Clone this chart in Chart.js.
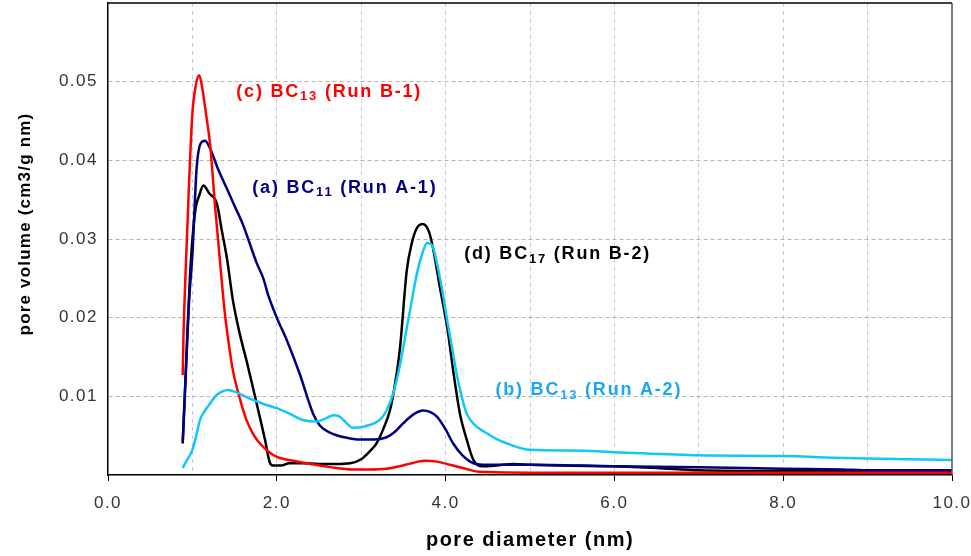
<!DOCTYPE html>
<html lang="en">
<head>
    <meta charset="UTF-8">
    <title>Pore size distribution</title>
    <script src="https://cdn.jsdelivr.net/npm/chart.js"></script>
    <style>
        html, body { margin: 0; padding: 0; background: #fff; }
        #wrap { width: 971px; height: 556px; }
    </style>
</head>
<body>
<div id="wrap"><canvas id="poreChart" width="971" height="556"></canvas></div>
<script>
    // pore diameter (nm) / pore volume (cm3/g nm)
    const redX = [0.885, 0.895, 0.92, 0.96, 1.0, 1.04, 1.08, 1.12, 1.16, 1.21, 1.27, 1.33, 1.38, 1.42, 1.48, 1.56, 1.64, 1.72, 1.8, 1.9, 2.0, 2.2, 2.4, 2.63, 2.9, 3.1, 3.3, 3.45, 3.6, 3.75, 3.9, 4.05, 4.2, 4.4, 5.0, 6.0, 7.0, 8.0, 9.0, 10.0];
    const redY = [0.0127, 0.018, 0.026, 0.037, 0.046, 0.0495, 0.0508, 0.049, 0.046, 0.042, 0.034, 0.0268, 0.021, 0.0175, 0.0133, 0.0098, 0.007, 0.0052, 0.004, 0.003, 0.0023, 0.0018, 0.0014, 0.001, 0.0007, 0.0007, 0.0008, 0.0011, 0.0015, 0.0018, 0.0017, 0.0013, 0.0009, 0.0004, 0.0003, 0.0003, 0.0003, 0.0003, 0.0003, 0.0003];

    const navyX = [0.885, 0.9, 0.93, 0.96, 1.0, 1.05, 1.1, 1.15, 1.21, 1.3, 1.4, 1.5, 1.6, 1.76, 1.84, 1.9, 2.0, 2.12, 2.27, 2.43, 2.51, 2.63, 2.8, 2.99, 3.15, 3.3, 3.4, 3.5, 3.62, 3.73, 3.82, 3.9, 4.0, 4.09, 4.2, 4.33, 4.5, 4.64, 5.0, 6.0, 7.0, 8.0, 8.7, 9.0, 10.0];
    const navyY = [0.0042, 0.0078, 0.015, 0.022, 0.028, 0.039, 0.0422, 0.0425, 0.0415, 0.039, 0.0366, 0.0342, 0.0318, 0.027, 0.025, 0.0228, 0.02, 0.0171, 0.0129, 0.0078, 0.0063, 0.0054, 0.0048, 0.0045, 0.0045, 0.0048, 0.0055, 0.0066, 0.0077, 0.0082, 0.008, 0.0074, 0.0058, 0.004, 0.0025, 0.0015, 0.0013, 0.0013, 0.0013, 0.0011, 0.001, 0.0008, 0.0007, 0.0006, 0.0006];

    const blackX = [0.885, 0.91, 0.94, 0.97, 1.0, 1.04, 1.08, 1.13, 1.2, 1.29, 1.35, 1.41, 1.48, 1.56, 1.64, 1.72, 1.8, 1.86, 1.92, 1.96, 2.05, 2.15, 2.3, 2.5, 2.7, 2.87, 3.0, 3.1, 3.18, 3.26, 3.34, 3.4, 3.46, 3.54, 3.6, 3.66, 3.73, 3.8, 3.85, 3.93, 4.02, 4.1, 4.17, 4.25, 4.33, 4.44, 4.6, 4.8, 5.0, 6.0, 6.5, 7.0, 8.0, 9.0, 10.0];
    const blackY = [0.004, 0.01, 0.018, 0.025, 0.03, 0.034, 0.0355, 0.0368, 0.0358, 0.0345, 0.031, 0.0275, 0.0222, 0.018, 0.0146, 0.011, 0.0073, 0.0045, 0.0015, 0.0012, 0.0012, 0.0015, 0.0015, 0.0014, 0.0014, 0.0015, 0.002, 0.003, 0.004, 0.0058, 0.0082, 0.0115, 0.0162, 0.026, 0.0295, 0.0314, 0.0319, 0.031, 0.0289, 0.024, 0.0187, 0.0125, 0.0078, 0.0045, 0.0019, 0.0011, 0.0012, 0.0014, 0.0013, 0.0011, 0.0009, 0.0006, 0.0005, 0.0005, 0.0004];

    const cyanX = [0.885, 0.93, 1.0, 1.05, 1.09, 1.15, 1.21, 1.27, 1.33, 1.42, 1.5, 1.68, 1.85, 2.0, 2.15, 2.31, 2.47, 2.58, 2.67, 2.73, 2.79, 2.9, 3.05, 3.22, 3.3, 3.38, 3.46, 3.54, 3.6, 3.66, 3.72, 3.78, 3.84, 3.9, 3.96, 4.02, 4.08, 4.13, 4.19, 4.25, 4.35, 4.49, 4.6, 4.73, 5.0, 5.5, 6.0, 7.0, 8.0, 8.6, 9.0, 10.0];
    const cyanY = [0.0009, 0.0018, 0.0032, 0.0052, 0.007, 0.0082, 0.0091, 0.01, 0.0105, 0.0108, 0.0106, 0.0097, 0.009, 0.0085, 0.0078, 0.007, 0.0068, 0.0072, 0.0076, 0.0075, 0.007, 0.006, 0.0062, 0.007, 0.0082, 0.0104, 0.014, 0.0187, 0.0222, 0.0256, 0.028, 0.0295, 0.0292, 0.0268, 0.0235, 0.0196, 0.016, 0.0129, 0.01, 0.0078, 0.0063, 0.0053, 0.0046, 0.004, 0.0032, 0.0031, 0.0029, 0.0025, 0.0024, 0.0022, 0.0021, 0.0019];

    // curve labels: [prefix, subscript, suffix]
    const labelC = ['(c) BC', '13', ' (Run B-1)'];
    const labelA = ['(a) BC', '11', ' (Run A-1)'];
    const labelD = ['(d) BC', '17', ' (Run B-2)'];
    const labelB = ['(b) BC', '13', ' (Run A-2)'];
    const yTitle = 'pore volume (cm3/g nm)';

    const pts = (xs, ys) => xs.map((x, i) => ({ x: x, y: ys[i] }));

    function series(xs, ys, color) {
        return {
            data: pts(xs, ys),
            borderColor: color,
            borderWidth: 2.5,
            pointRadius: 0,
            fill: false,
            cubicInterpolationMode: 'monotone'
        };
    }

    const FONT = '"Liberation Sans", Arial, sans-serif';

    // the original text is a bit spread out
    const spacing = {
        id: 'spacing',
        beforeDraw(chart) { chart.ctx.letterSpacing = '1.5px'; },
        afterDraw(chart) { chart.ctx.letterSpacing = '0px'; }
    };

    // box round the plot, y title, and the coloured curve labels
    const extras = {
        id: 'extras',
        afterDatasetsDraw(chart) {
            const { ctx, chartArea: a, scales: { x, y } } = chart;
            ctx.save();
            ctx.strokeStyle = '#000';
            ctx.lineWidth = 1.5;
            ctx.beginPath();
            ctx.moveTo(a.left, a.top);
            ctx.lineTo(a.right, a.top);
            ctx.stroke();
            ctx.strokeStyle = '#555';
            ctx.beginPath();
            ctx.moveTo(a.right, a.top);
            ctx.lineTo(a.right, a.bottom);
            ctx.stroke();

            // y title sits a little above the middle in the original
            ctx.save();
            ctx.letterSpacing = '1.2px';
            ctx.translate(25, (a.top + a.bottom) / 2 - 15);
            ctx.rotate(-Math.PI / 2);
            ctx.font = 'bold 17px ' + FONT;
            ctx.fillStyle = '#000';
            ctx.textAlign = 'center';
            ctx.textBaseline = 'middle';
            ctx.fillText(yTitle, 0, 0);
            ctx.restore();

            ctx.letterSpacing = '1.8px';
            const put = (parts, dx, dy, color) => {
                let px = x.getPixelForValue(dx);
                const py = y.getPixelForValue(dy);
                ctx.fillStyle = color;
                ctx.textBaseline = 'middle';
                ctx.textAlign = 'left';
                ctx.font = 'bold 18px ' + FONT;
                ctx.fillText(parts[0], px, py);
                px += ctx.measureText(parts[0]).width;
                ctx.font = 'bold 13px ' + FONT;
                ctx.fillText(parts[1], px, py + 5);
                px += ctx.measureText(parts[1]).width;
                ctx.font = 'bold 18px ' + FONT;
                ctx.fillText(parts[2], px, py);
            };
            put(labelC, 1.52, 0.0487, '#ff0000');
            put(labelA, 1.71, 0.0365, '#000080');
            put(labelD, 4.22, 0.0281, '#000000');
            put(labelB, 4.59, 0.0108, '#1aa8f0');
            ctx.restore();
        }
    };

    const ctx = document.getElementById('poreChart').getContext('2d');
    new Chart(ctx, {
        type: 'line',
        data: {
            datasets: [
                series(cyanX, cyanY, '#10c8f8'),
                series(redX, redY, '#ff0000'),
                series(navyX, navyY, '#000080'),
                series(blackX, blackY, '#000000')
            ]
        },
        plugins: [spacing, extras],
        options: {
            responsive: false,
            animation: false,
            layout: { padding: { top: 3, right: 19, left: 0, bottom: 0 } },
            plugins: { legend: { display: false }, tooltip: { enabled: false } },
            scales: {
                x: {
                    type: 'linear',
                    min: 0,
                    max: 10,
                    afterFit: (s) => { s.height = 81; s.paddingLeft = 0; s.paddingRight = 0; },
                    ticks: {
                        stepSize: 1,
                        autoSkip: false,
                        maxRotation: 0,
                        color: '#333',
                        padding: 12,
                        font: { family: FONT, size: 17 },
                        callback: (v) => (v % 2 === 0 ? v.toFixed(1) : '')
                    },
                    grid: {
                        color: (c) => (c.tick && (c.tick.value === 0 || c.tick.value === 10) ? 'rgba(0,0,0,0)' : '#c4c4f4'),
                        tickColor: (c) => (c.tick && c.tick.value % 2 === 0 ? '#000' : 'rgba(0,0,0,0)'),
                        tickLength: 6,
                        lineWidth: 1
                    },
                    border: { display: true, color: '#000', width: 1.5, dash: [4, 4] },
                    title: {
                        display: true,
                        text: 'pore diameter (nm)',
                        color: '#000',
                        padding: { top: 4 },
                        font: { family: FONT, size: 20, weight: 'bold' }
                    }
                },
                y: {
                    min: 0,
                    max: 0.06,
                    afterFit: (s) => { s.width = 108; s.paddingTop = 0; s.paddingBottom = 0; },
                    ticks: {
                        stepSize: 0.01,
                        color: '#333',
                        padding: 10,
                        font: { family: FONT, size: 17 },
                        callback: (v) => (v > 0.0001 && v < 0.0599 ? v.toFixed(2) : '')
                    },
                    grid: {
                        color: (c) => (c.tick && (c.tick.value < 0.0001 || c.tick.value > 0.0599) ? 'rgba(0,0,0,0)' : '#b4b4b4'),
                        drawTicks: false
                    },
                    border: { display: true, color: '#000', width: 1.5, dash: [4, 3] }
                }
            }
        }
    });
</script>
</body>
</html>
